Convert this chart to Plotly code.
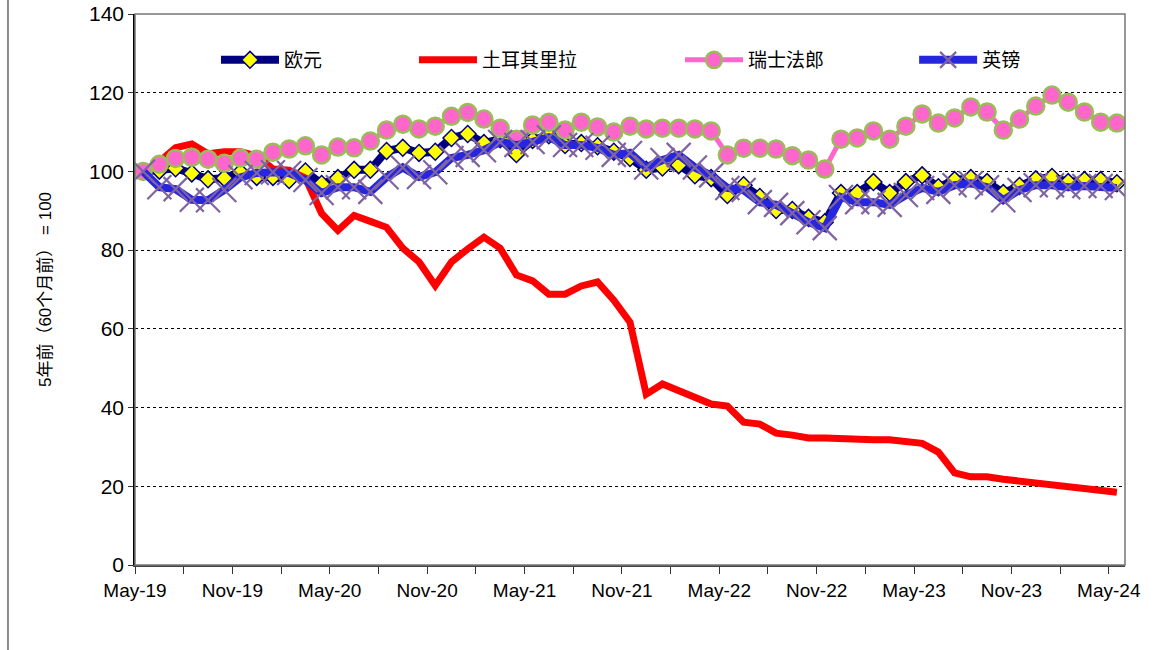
import plotly.graph_objects as go

months = ["May-19","Jun-19","Jul-19","Aug-19","Sep-19","Oct-19","Nov-19","Dec-19","Jan-20","Feb-20","Mar-20","Apr-20",
          "May-20","Jun-20","Jul-20","Aug-20","Sep-20","Oct-20","Nov-20","Dec-20","Jan-21","Feb-21","Mar-21","Apr-21",
          "May-21","Jun-21","Jul-21","Aug-21","Sep-21","Oct-21","Nov-21","Dec-21","Jan-22","Feb-22","Mar-22","Apr-22",
          "May-22","Jun-22","Jul-22","Aug-22","Sep-22","Oct-22","Nov-22","Dec-22","Jan-23","Feb-23","Mar-23","Apr-23",
          "May-23","Jun-23","Jul-23","Aug-23","Sep-23","Oct-23","Nov-23","Dec-23","Jan-24","Feb-24","Mar-24","Apr-24","May-24"]

eur = [100, 100.2, 100.8, 99.5, 98, 98.3, 99.8, 98.6, 98.6, 97.8, 100, 96.8, 98.3, 100.4, 100.4, 105.2,
       106, 104.7, 105, 108.5, 109.5, 107.2, 108.2, 104.4, 108, 109.2, 106.7, 107.2, 106.4, 105, 103.4,
       100.4, 101, 101.6, 99, 98.3, 94, 96.5, 93.5, 90.2, 90.2, 88.2, 87.1, 94.5, 94.5, 97.3, 94.5, 97.3,
       99, 96, 97.8, 98.3, 97.3, 94.5, 96.3, 98, 98.6, 97.3, 97.8, 97.8, 97]

try_ = [100, 102.5, 106, 107, 104.5, 105, 105, 104, 100.6, 100.3, 98.3, 89.3, 85, 88.8, 87.3, 85.8,
        80.5, 77, 71, 77, 80.3, 83.3, 80.5, 73.7, 72.2, 68.8, 68.8, 70.9, 71.9, 67.3, 61.7, 43.4, 46,
        44.2, 42.4, 40.9, 40.4, 36.3, 35.8, 33.5, 33, 32.3, 32.3, 32, 32, 31.8, 31.8, 31.2, 30.9, 28.7,
        23.4, 22.4, 22.4, 21.8, 21.3, 20.8, 20.1, 19.6, 19.1, 18.8, 18.5]

chf = [100, 101.8, 103.3, 103.6, 103.1, 102.1, 103.4, 103.1, 104.9, 105.7, 106.5, 104.2, 106.2, 106,
       107.7, 110.5, 112, 110.8, 111.5, 114, 115, 113.3, 111, 108.2, 111.8, 112.5, 110.5, 112.5, 111.3,
       110, 111.5, 110.8, 111, 111, 110.8, 110.3, 104.2, 105.9, 105.9, 105.7, 104, 102.9, 100.6, 108.2,
       108.5, 110.3, 108.2, 111.5, 114.6, 112.3, 113.6, 116.4, 115.1, 110.5, 113.3, 116.6, 119.4, 117.6,
       115.1, 112.5, 112.3]

gbp = [100, 96, 95.5, 92.8, 92.7, 95.3, 98.5, 99.6, 99.8, 99.6, 97.8, 94.5, 96, 96, 94.8, 98.5, 101,
       98.6, 99.8, 103.4, 104.2, 105.4, 107.5, 106.7, 107.5, 108.7, 106.7, 106.7, 106, 104.2, 104.7, 101,
       102.9, 104.2, 101, 99, 95.8, 95.3, 92.2, 91.5, 89.4, 87.1, 85.6, 93.5, 92.2, 92.2, 91.5, 94, 95.8,
       94.8, 96.5, 97, 96, 92.7, 95.3, 96.5, 96.5, 96, 96.3, 96.3, 95.8]

names = ["欧元", "土耳其里拉", "瑞士法郎", "英镑"]
tick_labels = ["May-19", "Nov-19", "May-20", "Nov-20", "May-21", "Nov-21",
               "May-22", "Nov-22", "May-23", "Nov-23", "May-24"]

x = list(range(len(months)))
FONT = "Arial, 'Liberation Sans', 'Noto Sans CJK SC', sans-serif"

fig = go.Figure()
fig.add_trace(go.Scatter(
    x=x, y=eur, name=names[0], mode="lines+markers", legend="legend",
    line=dict(color="#000080", width=8),
    marker=dict(symbol="diamond", size=13, color="#FFFF00", line=dict(color="#000080", width=1.5)),
    customdata=months))
fig.add_trace(go.Scatter(
    x=x, y=try_, name=names[1], mode="lines", legend="legend2",
    line=dict(color="#FF0000", width=7), customdata=months))
fig.add_trace(go.Scatter(
    x=x, y=chf, name=names[2], mode="lines+markers", legend="legend3",
    line=dict(color="#FF66CC", width=5),
    marker=dict(symbol="circle", size=17, color="#FF66CC", line=dict(color="#9BBB59", width=2.5)),
    customdata=months))
fig.add_trace(go.Scatter(
    x=x, y=gbp, name=names[3], mode="lines+markers", legend="legend4",
    line=dict(color="#2626DE", width=8),
    marker=dict(symbol="x-thin", size=24, color="#8064A2", line=dict(color="#8064A2", width=2.2)),
    customdata=months))

tickvals = [i * 6 - 0.5 for i in range(len(tick_labels))]

def leg(xpos):
    return dict(orientation="h", x=xpos, y=0.9165, xanchor="left", yanchor="middle",
                font=dict(size=19, family=FONT), itemwidth=58,
                bgcolor="rgba(0,0,0,0)")

fig.update_layout(
    width=1170, height=650,
    margin=dict(l=135, r=45, t=14, b=85),
    paper_bgcolor="white", plot_bgcolor="white",
    font=dict(family=FONT, color="black"),
    showlegend=True,
    legend=leg(0.0818), legend2=leg(0.2818), legend3=leg(0.5505), legend4=leg(0.787),
    xaxis=dict(range=[-0.5, 60.5], tickmode="array", tickvals=tickvals, ticktext=tick_labels,
               tickfont=dict(size=19, family=FONT), ticks="outside", ticklen=7, tickcolor="#333",
               showgrid=False, zeroline=False, showline=True, linecolor="#444", linewidth=2,
               automargin=False,
               minor=dict(tickmode="linear", tick0=-0.5, dtick=3, ticks="outside", ticklen=7,
                          tickcolor="#333", showgrid=False)),
    yaxis=dict(range=[0, 140], dtick=20, tickfont=dict(size=21, family=FONT),
               ticks="outside", ticklen=5, tickcolor="#333", automargin=False,
               showgrid=True, gridcolor="black", griddash="dot", gridwidth=1,
               zeroline=False, showline=True, linecolor="black", linewidth=1.5,
               title=dict(text="5年前（60个月前） = 100", font=dict(size=17, family=FONT), standoff=33)),
)

# plot-area frame (top and right edges)
fig.add_shape(type="rect", xref="paper", yref="paper", x0=0, y0=0, x1=1, y1=1,
              line=dict(color="#777", width=1.5), layer="above")
# outer chart-area border on the left
fig.add_shape(type="line", xref="paper", yref="paper", x0=-0.1283, x1=-0.1283, y0=-0.2, y1=1.05,
              line=dict(color="#666", width=1.5))

fig.write_html("out.html", config={"displayModeBar": False},
               post_script="document.body.style.margin='0';")
